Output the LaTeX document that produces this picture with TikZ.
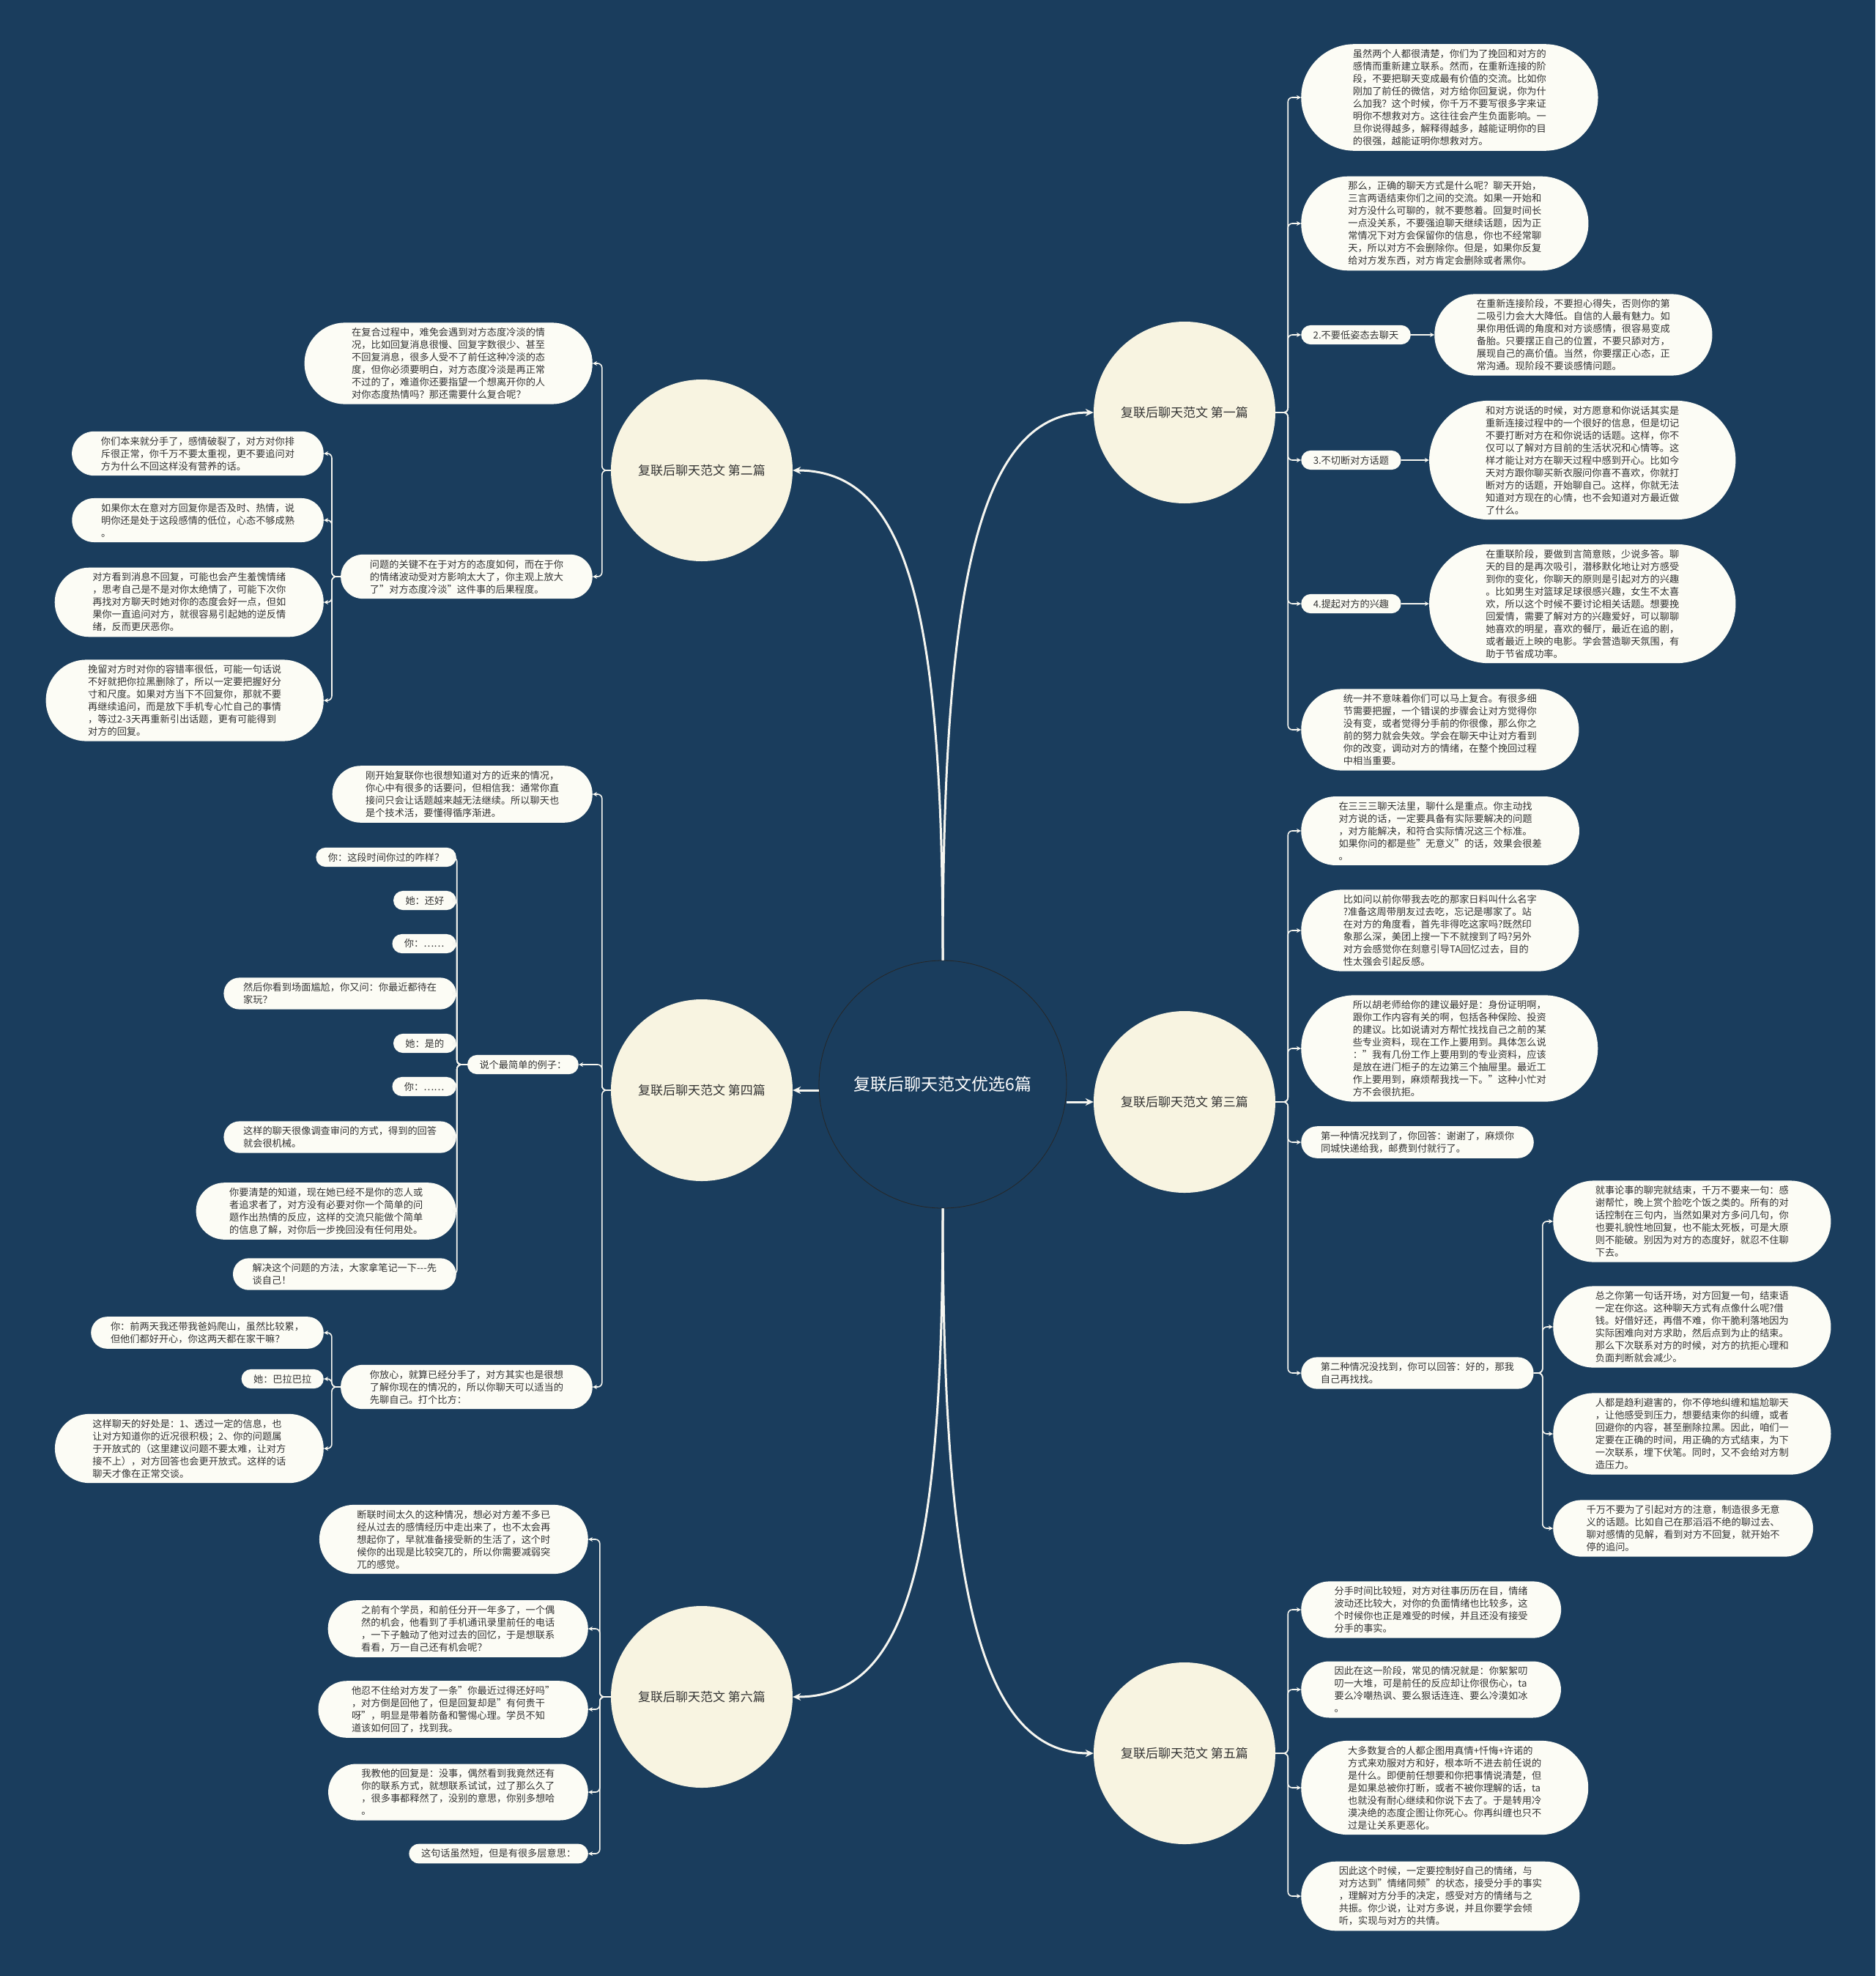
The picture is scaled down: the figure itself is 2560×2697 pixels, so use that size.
\documentclass[tikz,border=0pt]{standalone}
\usepackage{fontspec}
\setmainfont{Noto Sans CJK SC}
\usetikzlibrary{shapes.misc, arrows.meta, positioning}
\definecolor{navybg}{RGB}{26, 61, 93}
\definecolor{leafbg}{RGB}{252, 252, 245}
\definecolor{branchbg}{RGB}{248, 244, 225}
\definecolor{inkgray}{RGB}{51, 51, 51}
\definecolor{linecol}{RGB}{246, 246, 240}
\newcommand\leaffont{\fontsize{13.2}{17}\selectfont}
\newcommand\branchfont{\fontsize{17}{20}\selectfont}
\newcommand\hubfont{\fontsize{23}{26}\selectfont}

\begin{document}
\begin{tikzpicture}[
  x=1pt, y=-1pt,
  leaf/.style={rounded rectangle, fill=leafbg, text=inkgray, font=\leaffont,
               align=left, inner xsep=29pt, inner ysep=7pt},
  oneline/.style={inner xsep=15pt},
  twoline/.style={inner xsep=21pt},
  branch/.style={circle, fill=branchbg, text=inkgray, font=\branchfont,
                 minimum size=248pt, inner sep=0pt},
  hub/.style={circle, draw=black!85, line width=0.8pt, fill=navybg, text=white,
              font=\hubfont, minimum size=338pt, inner sep=0pt},
  arr/.style={draw=linecol, line width=1.6pt, rounded corners=6pt,
              -{Stealth[length=6pt, width=6pt]}},
  bigarr/.style={draw=linecol, line width=3pt, -{Stealth[length=11pt, width=10pt]}}
]
  \fill[navybg] (0,0) rectangle (2560,2697);
  \useasboundingbox (0,0) rectangle (2560,2697);

  % hub and the six branches
  \node[hub] (c) at (1287,1480) {复联后聊天范文优选6篇};
  \node[branch] (b1) at (1617,563) {复联后聊天范文 第一篇};
  \node[branch] (b2) at (958,642) {复联后聊天范文 第二篇};
  \node[branch] (b3) at (1617,1504) {复联后聊天范文 第三篇};
  \node[branch] (b4) at (958,1488) {复联后聊天范文 第四篇};
  \node[branch] (b5) at (1617,2393) {复联后聊天范文 第五篇};
  \node[branch] (b6) at (958,2316) {复联后聊天范文 第六篇};

  \draw[bigarr] (c.north) .. controls +(0,-500) and +(-160,0) .. (b1.west);
  \draw[bigarr] (c.north) .. controls +(0,-470) and +(160,0) .. (b2.east);
  \draw[bigarr] (b3.west -| c.east) -- (b3.west);
  \draw[bigarr] (b4.east -| c.west) -- (b4.east);
  \draw[bigarr] (c.south) .. controls +(0,500) and +(-160,0) .. (b5.west);
  \draw[bigarr] (c.south) .. controls +(0,470) and +(160,0) .. (b6.east);

  % first
  \node[leaf, anchor=west] (p1a) at (1776,133) {虽然两个人都很清楚，你们为了挽回和对方的\\
    感情而重新建立联系。然而，在重新连接的阶\\
    段，不要把聊天变成最有价值的交流。比如你\\
    刚加了前任的微信，对方给你回复说，你为什\\
    么加我？这个时候，你千万不要写很多字来证\\
    明你不想救对方。这往往会产生负面影响。一\\
    旦你说得越多，解释得越多，越能证明你的目\\
    的很强，越能证明你想救对方。};
  \node[leaf, anchor=west] (p1b) at (1776,305) {那么，正确的聊天方式是什么呢？聊天开始，\\
    三言两语结束你们之间的交流。如果一开始和\\
    对方没什么可聊的，就不要憋着。回复时间长\\
    一点没关系，不要强迫聊天继续话题，因为正\\
    常情况下对方会保留你的信息，你也不经常聊\\
    天，所以对方不会删除你。但是，如果你反复\\
    给对方发东西，对方肯定会删除或者黑你。};
  \node[leaf, oneline, anchor=west] (k2) at (1776,457) {2.不要低姿态去聊天};
  \node[leaf, right=32pt of k2] (e2) {在重新连接阶段，不要担心得失，否则你的第\\
    二吸引力会大大降低。自信的人最有魅力。如\\
    果你用低调的角度和对方谈感情，很容易变成\\
    备胎。只要摆正自己的位置，不要只舔对方，\\
    展现自己的高价值。当然，你要摆正心态，正\\
    常沟通。现阶段不要谈感情问题。};
  \node[leaf, oneline, anchor=west] (k3) at (1776,628) {3.不切断对方话题};
  \node[leaf, right=38pt of k3] (e3) {和对方说话的时候，对方愿意和你说话其实是\\
    重新连接过程中的一个很好的信息，但是切记\\
    不要打断对方在和你说话的话题。这样，你不\\
    仅可以了解对方目前的生活状况和心情等。这\\
    样才能让对方在聊天过程中感到开心。比如今\\
    天对方跟你聊买新衣服问你喜不喜欢，你就打\\
    断对方的话题，开始聊自己。这样，你就无法\\
    知道对方现在的心情，也不会知道对方最近做\\
    了什么。};
  \node[leaf, oneline, anchor=west] (k4) at (1776,824) {4.提起对方的兴趣};
  \node[leaf, right=38pt of k4] (e4) {在重联阶段，要做到言简意赅，少说多答。聊\\
    天的目的是再次吸引，潜移默化地让对方感受\\
    到你的变化，你聊天的原则是引起对方的兴趣\\
    。比如男生对篮球足球很感兴趣，女生不太喜\\
    欢，所以这个时候不要讨论相关话题。想要挽\\
    回爱情，需要了解对方的兴趣爱好，可以聊聊\\
    她喜欢的明星，喜欢的餐厅，最近在追的剧，\\
    或者最近上映的电影。学会营造聊天氛围，有\\
    助于节省成功率。};
  \node[leaf, anchor=west] (p1f) at (1776,996) {统一并不意味着你们可以马上复合。有很多细\\
    节需要把握，一个错误的步骤会让对方觉得你\\
    没有变，或者觉得分手前的你很像，那么你之\\
    前的努力就会失效。学会在聊天中让对方看到\\
    你的改变，调动对方的情绪，在整个挽回过程\\
    中相当重要。};
  \draw[arr] (b1.east) -- ++(17,0) |- (p1a.west);
  \draw[arr] (b1.east) -- ++(17,0) |- (p1b.west);
  \draw[arr] (b1.east) -- ++(17,0) |- (k2.west);
  \draw[arr] (b1.east) -- ++(17,0) |- (k3.west);
  \draw[arr] (b1.east) -- ++(17,0) |- (k4.west);
  \draw[arr] (b1.east) -- ++(17,0) |- (p1f.west);
  \draw[arr] (k2) -- (e2);
  \draw[arr] (k3) -- (e3);
  \draw[arr] (k4) -- (e4);

  % third
  \node[leaf, anchor=west] (p3a) at (1776,1134) {在三三三聊天法里，聊什么是重点。你主动找\\
    对方说的话，一定要具备有实际要解决的问题\\
    ，对方能解决，和符合实际情况这三个标准。\\
    如果你问的都是些"无意义"的话，效果会很差\\
    。};
  \node[leaf, anchor=west] (p3b) at (1776,1270) {比如问以前你带我去吃的那家日料叫什么名字\\
    ?准备这周带朋友过去吃，忘记是哪家了。站\\
    在对方的角度看，首先非得吃这家吗?既然印\\
    象那么深，美团上搜一下不就搜到了吗?另外\\
    对方会感觉你在刻意引导TA回忆过去，目的\\
    性太强会引起反感。};
  \node[leaf, anchor=west] (p3c) at (1776,1431) {所以胡老师给你的建议最好是：身份证明啊，\\
    跟你工作内容有关的啊，包括各种保险、投资\\
    的建议。比如说请对方帮忙找找自己之前的某\\
    些专业资料，现在工作上要用到。具体怎么说\\
    ："我有几份工作上要用到的专业资料，应该\\
    是放在进门柜子的左边第三个抽屉里。最近工\\
    作上要用到，麻烦帮我找一下。"这种小忙对\\
    方不会很抗拒。};
  \node[leaf, twoline, anchor=west] (p3d) at (1776,1559) {第一种情况找到了，你回答：谢谢了，麻烦你\\
    同城快递给我，邮费到付就行了。};
  \node[leaf, twoline, anchor=west] (p3e) at (1776,1874) {第二种情况没找到，你可以回答：好的，那我\\
    自己再找找。};
  \node[leaf, anchor=west] (s1) at (2120,1667) {就事论事的聊完就结束，千万不要来一句：感\\
    谢帮忙，晚上赏个脸吃个饭之类的。所有的对\\
    话控制在三句内，当然如果对方多问几句，你\\
    也要礼貌性地回复，也不能太死板，可是大原\\
    则不能破。别因为对方的态度好，就忍不住聊\\
    下去。};
  \node[leaf, anchor=west] (s2) at (2120,1811) {总之你第一句话开场，对方回复一句，结束语\\
    一定在你这。这种聊天方式有点像什么呢?借\\
    钱。好借好还，再借不难，你干脆利落地因为\\
    实际困难向对方求助，然后点到为止的结束。\\
    那么下次联系对方的时候，对方的抗拒心理和\\
    负面判断就会减少。};
  \node[leaf, anchor=west] (s3) at (2120,1957) {人都是趋利避害的，你不停地纠缠和尴尬聊天\\
    ，让他感受到压力，想要结束你的纠缠，或者\\
    回避你的内容，甚至删除拉黑。因此，咱们一\\
    定要在正确的时间，用正确的方式结束，为下\\
    一次联系，埋下伏笔。同时，又不会给对方制\\
    造压力。};
  \node[leaf, anchor=west] (s4) at (2120,2086) {千万不要为了引起对方的注意，制造很多无意\\
    义的话题。比如自己在那滔滔不绝的聊过去、\\
    聊对感情的见解，看到对方不回复，就开始不\\
    停的追问。};
  \draw[arr] (b3.east) -- ++(17,0) |- (p3a.west);
  \draw[arr] (b3.east) -- ++(17,0) |- (p3b.west);
  \draw[arr] (b3.east) -- ++(17,0) |- (p3c.west);
  \draw[arr] (b3.east) -- ++(17,0) |- (p3d.west);
  \draw[arr] (b3.east) -- ++(17,0) |- (p3e.west);
  \draw[arr] (p3e.east) -- ++(12,0) |- (s1.west);
  \draw[arr] (p3e.east) -- ++(12,0) |- (s2.west);
  \draw[arr] (p3e.east) -- ++(12,0) |- (s3.west);
  \draw[arr] (p3e.east) -- ++(12,0) |- (s4.west);

  % fifth
  \node[leaf, anchor=west] (p5a) at (1776,2197) {分手时间比较短，对方对往事历历在目，情绪\\
    波动还比较大，对你的负面情绪也比较多，这\\
    个时候你也正是难受的时候，并且还没有接受\\
    分手的事实。};
  \node[leaf, anchor=west] (p5b) at (1776,2306) {因此在这一阶段，常见的情况就是：你絮絮叨\\
    叨一大堆，可是前任的反应却让你很伤心，ta\\
    要么冷嘲热讽、要么狠话连连、要么冷漠如冰\\
    。};
  \node[leaf, anchor=west] (p5c) at (1776,2440) {大多数复合的人都企图用真情+忏悔+许诺的\\
    方式来劝服对方和好，根本听不进去前任说的\\
    是什么。即便前任想要和你把事情说清楚，但\\
    是如果总被你打断，或者不被你理解的话，ta\\
    也就没有耐心继续和你说下去了。于是转用冷\\
    漠决绝的态度企图让你死心。你再纠缠也只不\\
    过是让关系更恶化。};
  \node[leaf, anchor=west] (p5d) at (1776,2588) {因此这个时候，一定要控制好自己的情绪，与\\
    对方达到"情绪同频"的状态，接受分手的事实\\
    ，理解对方分手的决定，感受对方的情绪与之\\
    共振。你少说，让对方多说，并且你要学会倾\\
    听，实现与对方的共情。};
  \draw[arr] (b5.east) -- ++(17,0) |- (p5a.west);
  \draw[arr] (b5.east) -- ++(17,0) |- (p5b.west);
  \draw[arr] (b5.east) -- ++(17,0) |- (p5c.west);
  \draw[arr] (b5.east) -- ++(17,0) |- (p5d.west);

  % second
  \node[leaf, anchor=east, inner xsep=36pt] (p2a) at (809,496) {在复合过程中，难免会遇到对方态度冷淡的情\\
    况，比如回复消息很慢、回复字数很少、甚至\\
    不回复消息，很多人受不了前任这种冷淡的态\\
    度，但你必须要明白，对方态度冷淡是再正常\\
    不过的了，难道你还要指望一个想离开你的人\\
    对你态度热情吗？那还需要什么复合呢？};
  \node[leaf, anchor=east] (p2b) at (809,787) {问题的关键不在于对方的态度如何，而在于你\\
    的情绪波动受对方影响太大了，你主观上放大\\
    了"对方态度冷淡"这件事的后果程度。};
  \node[leaf, anchor=east] (q1) at (442,619) {你们本来就分手了，感情破裂了，对方对你排\\
    斥很正常，你千万不要太重视，更不要追问对\\
    方为什么不回这样没有营养的话。};
  \node[leaf, anchor=east] (q2) at (442,710) {如果你太在意对方回复你是否及时、热情，说\\
    明你还是处于这段感情的低位，心态不够成熟\\
    。};
  \node[leaf, anchor=east] (q3) at (442,822) {对方看到消息不回复，可能也会产生羞愧情绪\\
    ，思考自己是不是对你太绝情了，可能下次你\\
    再找对方聊天时她对你的态度会好一点，但如\\
    果你一直追问对方，就很容易引起她的逆反情\\
    绪，反而更厌恶你。};
  \node[leaf, anchor=east] (q4) at (442,956) {挽留对方时对你的容错率很低，可能一句话说\\
    不好就把你拉黑删除了，所以一定要把握好分\\
    寸和尺度。如果对方当下不回复你，那就不要\\
    再继续追问，而是放下手机专心忙自己的事情\\
    ，等过2-3天再重新引出话题，更有可能得到\\
    对方的回复。};
  \draw[arr] (b2.west) -- ++(-12,0) |- (p2a.east);
  \draw[arr] (b2.west) -- ++(-12,0) |- (p2b.east);
  \draw[arr] (p2b.west) -- ++(-12,0) |- (q1.east);
  \draw[arr] (p2b.west) -- ++(-12,0) |- (q2.east);
  \draw[arr] (p2b.west) -- ++(-12,0) |- (q3.east);
  \draw[arr] (p2b.west) -- ++(-12,0) |- (q4.east);

  % fourth
  \node[leaf, anchor=east] (p4a) at (809,1084) {刚开始复联你也很想知道对方的近来的情况，\\
    你心中有很多的话要问，但相信我：通常你直\\
    接问只会让话题越来越无法继续。所以聊天也\\
    是个技术活，要懂得循序渐进。};
  \node[leaf, oneline, anchor=east] (p4b) at (790,1453) {说个最简单的例子：};
  \node[leaf, oneline, anchor=east] (r1) at (623,1170) {你：这段时间你过的咋样？};
  \node[leaf, oneline, anchor=east] (r2) at (623,1229) {她：还好};
  \node[leaf, oneline, anchor=east] (r3) at (623,1288) {你：……};
  \node[leaf, twoline, anchor=east] (r4) at (623,1356) {然后你看到场面尴尬，你又问：你最近都待在\\
    家玩？};
  \node[leaf, oneline, anchor=east] (r5) at (623,1424) {她：是的};
  \node[leaf, oneline, anchor=east] (r6) at (623,1483) {你：……};
  \node[leaf, twoline, anchor=east] (r7) at (623,1552) {这样的聊天很像调查审问的方式，得到的回答\\
    就会很机械。};
  \node[leaf, anchor=east] (r8) at (623,1653) {你要清楚的知道，现在她已经不是你的恋人或\\
    者追求者了，对方没有必要对你一个简单的问\\
    题作出热情的反应，这样的交流只能做个简单\\
    的信息了解，对你后一步挽回没有任何用处。};
  \node[leaf, twoline, anchor=east] (r9) at (623,1739) {解决这个问题的方法，大家拿笔记一下-{}-{}-先\\
    谈自己！};
  \node[leaf, anchor=east] (p4c) at (809,1893) {你放心，就算已经分手了，对方其实也是很想\\
    了解你现在的情况的，所以你聊天可以适当的\\
    先聊自己。打个比方：};
  \node[leaf, twoline, anchor=east] (v1) at (442,1819) {你：前两天我还带我爸妈爬山，虽然比较累，\\
    但他们都好开心，你这两天都在家干嘛？};
  \node[leaf, oneline, anchor=east] (v2) at (442,1882) {她：巴拉巴拉};
  \node[leaf, anchor=east] (v3) at (442,1977) {这样聊天的好处是：1、透过一定的信息，也\\
    让对方知道你的近况很积极；2、你的问题属\\
    于开放式的（这里建议问题不要太难，让对方\\
    接不上），对方回答也会更开放式。这样的话\\
    聊天才像在正常交谈。};
  \draw[arr] (b4.west) -- ++(-12,0) |- (p4a.east);
  \draw[arr] (b4.west) -- ++(-12,0) |- (p4b.east);
  \draw[arr] (b4.west) -- ++(-12,0) |- (p4c.east);
  \draw[arr] (p4b.west) -- ++(-14,0) |- (r1.east);
  \draw[arr] (p4b.west) -- ++(-14,0) |- (r2.east);
  \draw[arr] (p4b.west) -- ++(-14,0) |- (r3.east);
  \draw[arr] (p4b.west) -- ++(-14,0) |- (r4.east);
  \draw[arr] (p4b.west) -- ++(-14,0) |- (r5.east);
  \draw[arr] (p4b.west) -- ++(-14,0) |- (r6.east);
  \draw[arr] (p4b.west) -- ++(-14,0) |- (r7.east);
  \draw[arr] (p4b.west) -- ++(-14,0) |- (r8.east);
  \draw[arr] (p4b.west) -- ++(-14,0) |- (r9.east);
  \draw[arr] (p4c.west) -- ++(-12,0) |- (v1.east);
  \draw[arr] (p4c.west) -- ++(-12,0) |- (v2.east);
  \draw[arr] (p4c.west) -- ++(-12,0) |- (v3.east);

  % sixth
  \node[leaf, anchor=east] (u1) at (803,2101) {断联时间太久的这种情况，想必对方差不多已\\
    经从过去的感情经历中走出来了，也不太会再\\
    想起你了，早就准备接受新的生活了，这个时\\
    候你的出现是比较突兀的，所以你需要减弱突\\
    兀的感觉。};
  \node[leaf, anchor=east] (u2) at (803,2223) {之前有个学员，和前任分开一年多了，一个偶\\
    然的机会，他看到了手机通讯录里前任的电话\\
    ，一下子触动了他对过去的回忆，于是想联系\\
    看看，万一自己还有机会呢？};
  \node[leaf, anchor=east] (u3) at (803,2333) {他忍不住给对方发了一条"你最近过得还好吗"\\
    ，对方倒是回他了，但是回复却是"有何贵干\\
    呀"，明显是带着防备和警惕心理。学员不知\\
    道该如何回了，找到我。};
  \node[leaf, anchor=east] (u4) at (803,2446) {我教他的回复是：没事，偶然看到我竟然还有\\
    你的联系方式，就想联系试试，过了那么久了\\
    ，很多事都释然了，没别的意思，你别多想哈\\
    。};
  \node[leaf, oneline, anchor=east] (u5) at (803,2530) {这句话虽然短，但是有很多层意思：};
  \draw[arr] (b6.west) -- ++(-15,0) |- (u1.east);
  \draw[arr] (b6.west) -- ++(-15,0) |- (u2.east);
  \draw[arr] (b6.west) -- ++(-15,0) |- (u3.east);
  \draw[arr] (b6.west) -- ++(-15,0) |- (u4.east);
  \draw[arr] (b6.west) -- ++(-15,0) |- (u5.east);
\end{tikzpicture}
\end{document}
